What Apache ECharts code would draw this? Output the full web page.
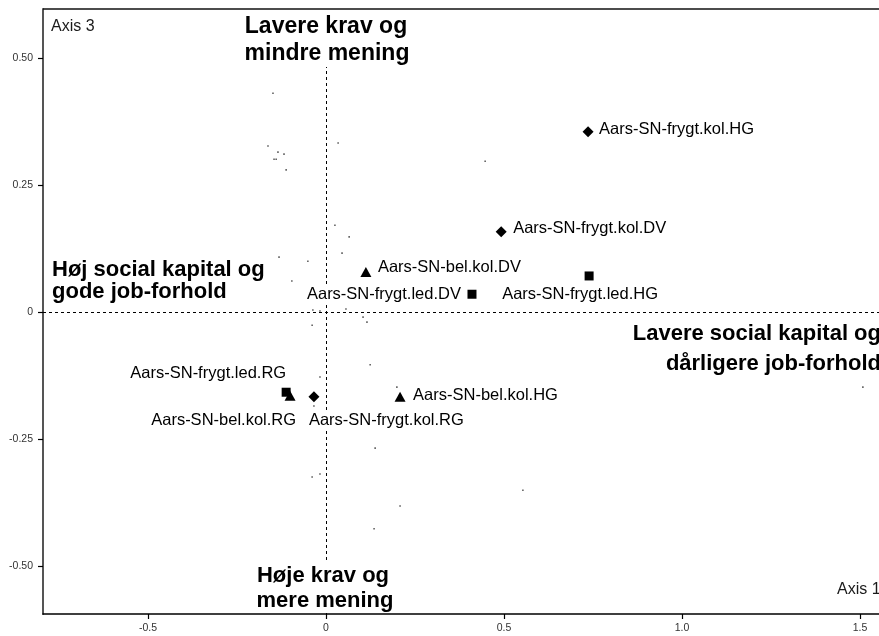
<!DOCTYPE html>
<html>
<head>
<meta charset="utf-8">
<script src="https://cdn.jsdelivr.net/npm/echarts@6/dist/echarts.min.js"></script>
<style>
  html, body { margin: 0; padding: 0; background: #ffffff; }
  #chart { width: 879px; height: 636px; }
</style>
</head>
<body>
<div id="chart"></div>
<script>
// Category points (supplementary variables) on axes 1 and 3
const pointLabels = [
  'Aars-SN-frygt.kol.HG', 'Aars-SN-frygt.kol.DV', 'Aars-SN-frygt.kol.RG',
  'Aars-SN-frygt.led.HG', 'Aars-SN-frygt.led.DV', 'Aars-SN-frygt.led.RG',
  'Aars-SN-bel.kol.HG',   'Aars-SN-bel.kol.DV',   'Aars-SN-bel.kol.RG'
];
const pointGroups = [
  'frygt.kol', 'frygt.kol', 'frygt.kol',
  'frygt.led', 'frygt.led', 'frygt.led',
  'bel.kol',   'bel.kol',   'bel.kol'
];
const axis1Scores = [0.736, 0.492, -0.034, 0.739, 0.410, -0.112, 0.208, 0.112, -0.101];
const axis3Scores = [0.355, 0.158, -0.167, 0.071, 0.035, -0.158, -0.167, 0.079, -0.165];

// Individual cases (small dots)
const cloudAxis1 = [-0.149, -0.163, -0.135, -0.118, -0.146, -0.140, -0.112, 0.034, 0.447, 0.025,
                    0.065, 0.045, -0.132, -0.051, -0.096, -0.037, -0.017, 0.056, 0.104, 0.115,
                    -0.039, 0.124, -0.017, 0.199, -0.034, 0.138, -0.039, -0.017, 0.553, 0.208,
                    0.135, 1.508];
const cloudAxis3 = [0.431, 0.327, 0.315, 0.311, 0.301, 0.301, 0.280, 0.333, 0.297, 0.171,
                    0.148, 0.116, 0.108, 0.100, 0.061, 0.004, 0.002, 0.006, -0.010, -0.020,
                    -0.026, -0.104, -0.128, -0.148, -0.185, -0.268, -0.325, -0.319, -0.351, -0.382,
                    -0.427, -0.148];

// Axis ticks
const xTickValues = [-0.5, 0, 0.5, 1.0, 1.5];
const xTickLabels = ['-0.5', '0', '0.5', '1.0', '1.5'];
const yTickValues = [-0.5, -0.25, 0, 0.25, 0.5];
const yTickLabels = ['-0.50', '-0.25', '0', '0.25', '0.50'];

// Text
const axisNames = ['Axis 1', 'Axis 3'];
const quadrantTop = ['Lavere krav og', 'mindre mening'];
const quadrantBottom = ['Høje krav og', 'mere mening'];
const quadrantLeft = ['Høj social kapital og', 'gode job-forhold'];
const quadrantRight = ['Lavere social kapital og', 'dårligere job-forhold'];

// ---- styling / layout ----
const FONT = "'Liberation Sans', Arial, Helvetica, sans-serif";
const groupSymbol = {
  'frygt.kol': { symbol: 'diamond', size: [11, 11] },
  'frygt.led': { symbol: 'rect', size: [9, 9] },
  'bel.kol':   { symbol: 'triangle', size: [11, 10] }
};
// label anchor relative to the marker centre, in pixels
const labelPlacement = {
  'Aars-SN-frygt.kol.HG': { align: 'left',   offset: [10, -2] },
  'Aars-SN-frygt.kol.DV': { align: 'left',   offset: [11, -3] },
  'Aars-SN-frygt.kol.RG': { align: 'left',   offset: [-6, 24] },
  'Aars-SN-frygt.led.HG': { align: 'center', offset: [-9, 18] },
  'Aars-SN-frygt.led.DV': { align: 'right',  offset: [-10, 0] },
  'Aars-SN-frygt.led.RG': { align: 'right',  offset: [1, -19] },
  'Aars-SN-bel.kol.HG':   { align: 'left',   offset: [12, -1] },
  'Aars-SN-bel.kol.DV':   { align: 'left',   offset: [11, -4] },
  'Aars-SN-bel.kol.RG':   { align: 'right',  offset: [7, 25] }
};

function groupSeries(group) {
  const data = [];
  pointLabels.forEach((name, i) => {
    if (pointGroups[i] !== group) return;
    const pl = labelPlacement[name];
    data.push({
      name: name,
      value: [axis1Scores[i], axis3Scores[i]],
      label: { align: pl.align, offset: pl.offset }
    });
  });
  return {
    type: 'scatter',
    name: group,
    symbol: groupSymbol[group].symbol,
    symbolSize: groupSymbol[group].size,
    itemStyle: { color: '#000000', opacity: 1 },
    z: 5,
    label: {
      show: true,
      position: 'inside',
      verticalAlign: 'middle',
      formatter: p => p.name,
      color: '#000000',
      textBorderWidth: 0,
      backgroundColor: '#ffffff',
      padding: [1, 1],
      opacity: 1,
      fontFamily: FONT,
      fontSize: 16.5
    },
    emphasis: { disabled: true },
    data: data
  };
}

const chart = echarts.init(document.getElementById('chart'), null, { renderer: 'canvas' });

function lineText(text, x, y, align, bold, size) {
  return {
    type: 'text',
    z: 120,
    style: {
      text: text, x: x, y: y,
      align: align, verticalAlign: 'middle',
      font: (bold ? 'bold ' : '') + size + 'px ' + FONT,
      fill: bold ? '#000000' : '#1a1a1a'
    }
  };
}

const option = {
  animation: false,
  backgroundColor: '#ffffff',
  grid: { left: 43, top: 9, bottom: 22, right: 0, show: false },
  xAxis: {
    type: 'value',
    min: -0.795, max: 1.5533,
    axisLine: { show: true, onZero: false, lineStyle: { color: '#000000', width: 1.5 } },
    axisTick: { show: true, length: 5, customValues: xTickValues, lineStyle: { color: '#000000', width: 1.2 } },
    axisLabel: {
      customValues: xTickValues,
      margin: 9,
      fontSize: 10.5, color: '#333333', fontFamily: FONT,
      formatter: v => xTickLabels[xTickValues.indexOf(v)] ?? ''
    },
    splitLine: { show: false }
  },
  yAxis: {
    type: 'value',
    min: -0.5948, max: 0.5968,
    axisLine: { show: true, onZero: false, lineStyle: { color: '#555555', width: 2 } },
    axisTick: { show: true, length: 5, customValues: yTickValues, lineStyle: { color: '#000000', width: 1.2 } },
    axisLabel: {
      customValues: yTickValues,
      margin: 10,
      fontSize: 10.5, color: '#333333', fontFamily: FONT,
      formatter: v => yTickLabels[yTickValues.indexOf(v)] ?? ''
    },
    splitLine: { show: false }
  },
  series: [
    {
      type: 'scatter',
      name: 'cases',
      symbol: 'rect',
      symbolSize: 1.6,
      itemStyle: { color: '#3a3a3a' },
      z: 3,
      data: cloudAxis1.map((x, i) => [x, cloudAxis3[i]]),
      markLine: {
        silent: true,
        symbol: 'none',
        label: { show: false },
        lineStyle: { color: '#000000', type: [3, 3], width: 1 },
        data: [{ xAxis: 0 }, { yAxis: 0 }]
      }
    },
    groupSeries('frygt.led'),
    groupSeries('bel.kol'),
    groupSeries('frygt.kol')
  ],
  graphic: [
    // top frame line of the plotting region
    { type: 'line', z: 100, shape: { x1: 43, y1: 9, x2: 879, y2: 9 }, style: { stroke: '#111111', lineWidth: 1.5 } },
    // white panels behind the vertical-axis quadrant titles
    { type: 'rect', z: 110, shape: { x: 238, y: 10, width: 176, height: 57 }, style: { fill: '#ffffff' } },
    { type: 'rect', z: 110, shape: { x: 246, y: 560, width: 156, height: 53 }, style: { fill: '#ffffff' } },
    lineText(quadrantTop[0], 326, 27, 'center', true, 23),
    lineText(quadrantTop[1], 327, 54, 'center', true, 23),
    lineText(quadrantBottom[0], 323, 576, 'center', true, 22),
    lineText(quadrantBottom[1], 325, 601, 'center', true, 22),
    lineText(quadrantLeft[0], 52, 270, 'left', true, 22),
    lineText(quadrantLeft[1], 52, 292, 'left', true, 22),
    lineText(quadrantRight[0], 881, 334, 'right', true, 22),
    lineText(quadrantRight[1], 881, 364, 'right', true, 22),
    lineText(axisNames[1], 51, 27, 'left', false, 16),
    lineText(axisNames[0], 837, 590, 'left', false, 16)
  ]
};

chart.setOption(option);
</script>
</body>
</html>
